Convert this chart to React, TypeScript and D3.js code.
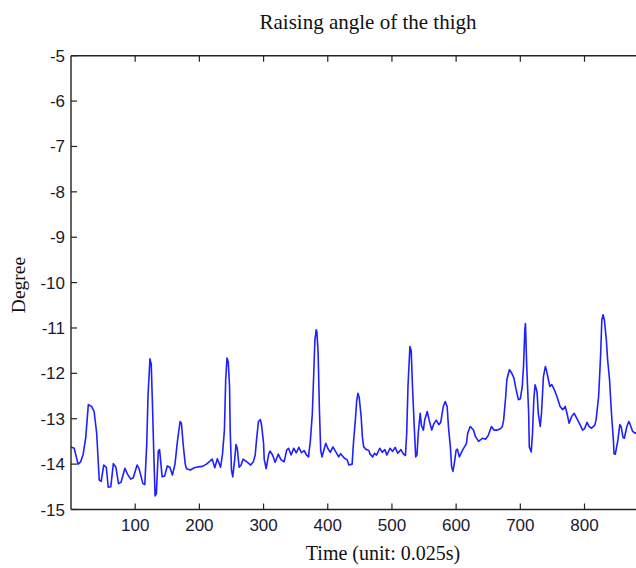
import React from "react";
import * as d3 from "d3";

const titleText = "Raising angle of the thigh";
const xLabel = "Time (unit: 0.025s)";
const yLabel = "Degree";
const xTicks = [100, 200, 300, 400, 500, 600, 700, 800];
const yTicks = [-5, -6, -7, -8, -9, -10, -11, -12, -13, -14, -15];

const times = [
  0, 5, 11, 15, 19, 23, 27, 32, 36, 40, 44, 47, 51, 55, 58, 62, 66, 70, 74, 78,
  84, 88, 93, 97, 103, 106, 112, 115, 118, 120, 123, 125, 127, 129, 131, 133, 136, 138, 142, 146,
  150, 154, 158, 162, 166, 170, 172, 175, 178, 180, 186, 192, 198, 205, 211, 217, 220, 224, 228, 233,
  236, 239, 241, 243, 245, 247, 248, 250, 252, 255, 257, 259, 262, 265, 268, 274, 280, 284, 287, 289,
  292, 295, 297, 300, 301, 304, 308, 310, 314, 318, 323, 327, 332, 336, 339, 343, 347, 351, 355, 359,
  363, 367, 370, 373, 376, 378, 380, 382, 383, 385, 387, 389, 391, 394, 397, 400, 404, 408, 413, 417,
  420, 426, 430, 433, 438, 440, 443, 445, 447, 449, 452, 454, 456, 460, 464, 466, 470, 473, 476, 481,
  485, 489, 492, 497, 501, 505, 509, 514, 518, 521, 523, 525, 528, 530, 532, 535, 537, 539, 541, 544,
  546, 549, 551, 555, 558, 562, 565, 569, 573, 576, 580, 583, 586, 588, 591, 593, 595, 597, 600, 602,
  605, 610, 613, 616, 618, 622, 627, 630, 635, 641, 646, 650, 655, 659, 664, 669, 672, 674, 677, 679,
  683, 686, 690, 693, 697, 700, 703, 705, 707, 708, 710, 713, 714, 717, 719, 721, 723, 726, 728, 731,
  733, 736, 739, 741, 746, 749, 753, 757, 762, 766, 770, 773, 776, 780, 784, 788, 793, 797, 800, 804,
  807, 811, 816, 818, 822, 825, 827, 829, 831, 834, 836, 839, 842, 845, 846, 848, 852, 855, 857, 860,
  862, 866, 869, 871, 875, 879, 882,
];

const degrees = [
  -13.62, -13.65, -14.0, -13.95, -13.78, -13.41, -12.69, -12.73, -12.84, -13.32, -14.35, -14.38, -14.02, -14.07, -14.51, -14.5, -13.99, -14.07, -14.43, -14.4,
  -14.09, -14.22, -14.33, -14.3, -14.02, -14.1, -14.43, -14.45, -13.56, -12.49, -11.68, -11.8, -12.73, -13.78, -14.7, -14.65, -13.71, -13.68, -14.28, -14.26,
  -14.04, -14.07, -14.24, -14.0, -13.47, -13.06, -13.1, -13.6, -14.0, -14.1, -14.13, -14.08, -14.06, -14.05, -14.0, -13.93, -13.89, -14.08, -13.88, -14.07,
  -13.78, -13.25, -12.14, -11.66, -11.75, -12.29, -13.25, -14.13, -14.28, -13.9, -13.57, -13.65, -14.07, -14.02, -13.89, -13.95, -14.02, -13.95, -13.8, -13.47,
  -13.06, -13.02, -13.15, -13.54, -13.89, -14.1, -13.78, -13.71, -13.8, -13.96, -13.78, -13.9, -13.95, -13.69, -13.65, -13.8, -13.65, -13.75, -13.63, -13.75,
  -13.7, -13.8, -13.84, -13.47, -12.88, -12.07, -11.26, -11.04, -11.08, -11.56, -12.8, -13.69, -13.84, -13.69, -13.54, -13.65, -13.74, -13.62, -13.74, -13.84,
  -13.77, -13.87, -13.9, -14.02, -14.0, -13.54, -13.03, -12.62, -12.44, -12.53, -12.95, -13.41, -13.62, -13.68, -13.7, -13.78, -13.84, -13.76, -13.8, -13.65,
  -13.74, -13.68, -13.8, -13.65, -13.72, -13.63, -13.76, -13.68, -13.78, -13.81, -13.32, -12.29, -11.41, -11.5, -12.29, -13.25, -13.84, -13.8, -13.32, -12.88,
  -13.15, -13.25, -13.03, -12.84, -13.03, -13.25, -13.12, -13.03, -13.13, -13.08, -12.73, -12.62, -12.73, -13.17, -13.62, -14.06, -14.16, -14.0, -13.69, -13.67,
  -13.84, -13.69, -13.62, -13.55, -13.32, -13.17, -13.25, -13.39, -13.5, -13.43, -13.45, -13.37, -13.17, -13.25, -13.25, -13.22, -13.17, -13.03, -12.55, -12.14,
  -11.92, -11.98, -12.1, -12.33, -12.58, -12.56, -12.29, -11.85, -11.04, -10.9, -11.85, -12.88, -13.62, -13.73, -13.32, -12.58, -12.25, -12.4, -12.88, -13.17,
  -12.88, -12.07, -11.85, -11.95, -12.29, -12.25, -12.36, -12.51, -12.73, -12.8, -12.73, -12.9, -13.1, -12.95, -12.88, -12.99, -13.13, -13.25, -13.22, -13.08,
  -13.17, -13.21, -13.14, -13.03, -12.51, -11.63, -10.82, -10.71, -10.83, -11.26, -11.7, -12.14, -12.88, -13.47, -13.77, -13.78, -13.47, -13.13, -13.17, -13.41,
  -13.43, -13.17, -13.06, -13.12, -13.28, -13.32, -13.3,
];

const W = 636;
const H = 568;
const left = 71;
const right = 636.5;
const top = 55.7;
const bottom = 509.5;

export default function App() {
  const x = d3.scaleLinear().domain([0, 881]).range([left, right]);
  const y = d3.scaleLinear().domain([-15, -5]).range([bottom, top]);
  const pts = times.map((t, i) => [t, degrees[i]] as [number, number]);
  const line = d3
    .line<[number, number]>()
    .x((d) => x(d[0]))
    .y((d) => y(d[1]));
  const tickFont = "'Liberation Sans', Arial, sans-serif";
  const serif = "'Liberation Serif', 'Times New Roman', serif";
  const tickColor = "#1a1a2e";
  return (
    <svg
      width={W}
      height={H}
      style={{ position: "absolute", left: 0, top: 0, background: "#fff" }}
    >
      <rect x={0} y={0} width={W} height={H} fill="#fff" />
      <text x={368} y={29} textAnchor="middle" fontFamily={serif} fontSize={21} fill="#111">
        {titleText}
      </text>
      <defs>
        <clipPath id="plotclip">
          <rect x={left} y={top} width={right - left} height={bottom - top} />
        </clipPath>
      </defs>
      <path
        d={line(pts) || ""}
        fill="none"
        stroke="#1f1fff"
        strokeWidth={1.6}
        strokeLinejoin="round"
        clipPath="url(#plotclip)"
      />
      <line x1={left} x2={W} y1={top} y2={top} stroke="#222" strokeWidth={1.4} />
      <line x1={left} x2={W} y1={bottom} y2={bottom} stroke="#222" strokeWidth={1.4} />
      <line x1={left} x2={left} y1={top} y2={bottom} stroke="#222" strokeWidth={1.4} />
      {xTicks.map((t) => (
        <g key={"xt" + t}>
          <line x1={x(t)} x2={x(t)} y1={bottom} y2={bottom - 6} stroke="#222" strokeWidth={1.2} />
          <line x1={x(t)} x2={x(t)} y1={top} y2={top + 6} stroke="#222" strokeWidth={1.2} />
          <text
            x={x(t)}
            y={bottom + 21}
            textAnchor="middle"
            fontFamily={tickFont}
            fontSize={17}
            fill={tickColor}
          >
            {t}
          </text>
        </g>
      ))}
      {yTicks.map((t) => (
        <g key={"yt" + t}>
          <line x1={left} x2={left + 6} y1={y(t)} y2={y(t)} stroke="#222" strokeWidth={1.2} />
          <text
            x={left - 6}
            y={y(t) + 6}
            textAnchor="end"
            fontFamily={tickFont}
            fontSize={17}
            fill={tickColor}
          >
            {t}
          </text>
        </g>
      ))}
      <text x={383} y={560} textAnchor="middle" fontFamily={serif} fontSize={20} fill="#111">
        {xLabel}
      </text>
      <text
        transform={`translate(25, 285) rotate(-90)`}
        textAnchor="middle"
        fontFamily={serif}
        fontSize={19.5}
        fill="#111"
      >
        {yLabel}
      </text>
    </svg>
  );
}
